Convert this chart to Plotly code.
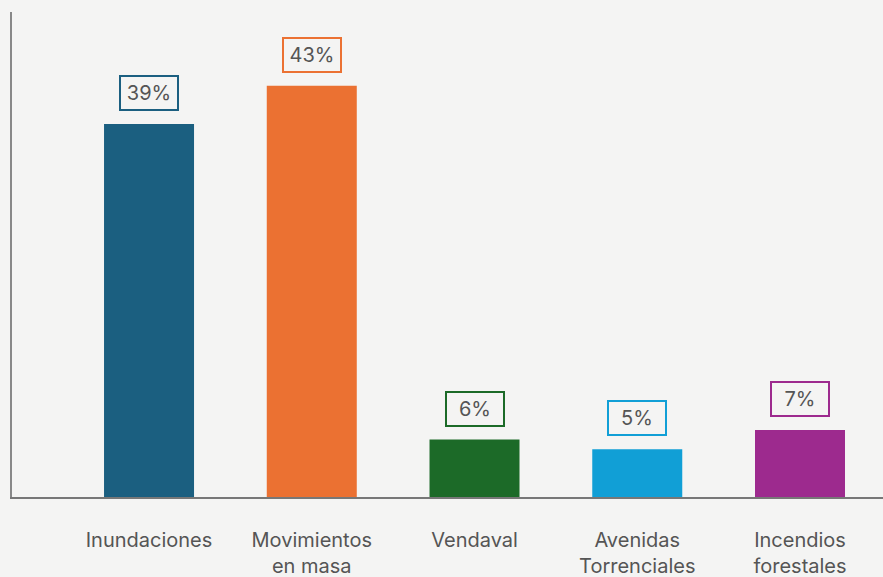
import plotly.graph_objects as go

categories = ["Inundaciones", "Movimientos<br>en masa", "Vendaval", "Avenidas<br>Torrenciales", "Incendios<br>forestales"]
values = [39, 43, 6, 5, 7]
labels = ["39%", "43%", "6%", "5%", "7%"]
colors = ["#1b5f80", "#eb7132", "#1c6a28", "#119fd6", "#9d2a8e"]

fig = go.Figure()
fig.add_trace(go.Bar(
    x=categories, y=values, marker=dict(color=colors, line=dict(width=0)),
    width=0.553, hoverinfo="skip", showlegend=False,
))

for c, v, t, col in zip(categories, values, labels, colors):
    fig.add_annotation(
        x=c, y=v, xref="x", yref="y", text=t, showarrow=False,
        yanchor="bottom", yshift=13,
        font=dict(family="Inter", size=20, color="#555555"),
        bordercolor=col, borderwidth=2, borderpad=4,
        bgcolor="rgba(0,0,0,0)", width=48,
    )

fig.update_layout(
    width=883, height=577,
    margin=dict(l=12, r=0, t=12, b=80, autoexpand=False),
    paper_bgcolor="#f4f4f3", plot_bgcolor="#f4f4f3",
    font=dict(family="Inter", size=20, color="#555555"),
    bargap=0.4,
)
fig.update_xaxes(
    type="category", range=[-0.842, 4.51], automargin=False,
    showline=True, linecolor="#777777", linewidth=2,
    showgrid=False, zeroline=False,
    ticks="outside", ticklen=24, tickcolor="rgba(0,0,0,0)",
    tickfont=dict(family="Inter", size=20, color="#555555"),
)
fig.update_yaxes(
    range=[0, 50.7], automargin=False, showline=True, linecolor="#888888", linewidth=2,
    showgrid=False, zeroline=False, showticklabels=False, ticks="",
)

fig.write_html(
    "out.html",
    config={"displayModeBar": False},
    post_script="document.body.style.margin='0';document.body.style.overflow='hidden';document.body.style.background='#f4f4f3';",
)
